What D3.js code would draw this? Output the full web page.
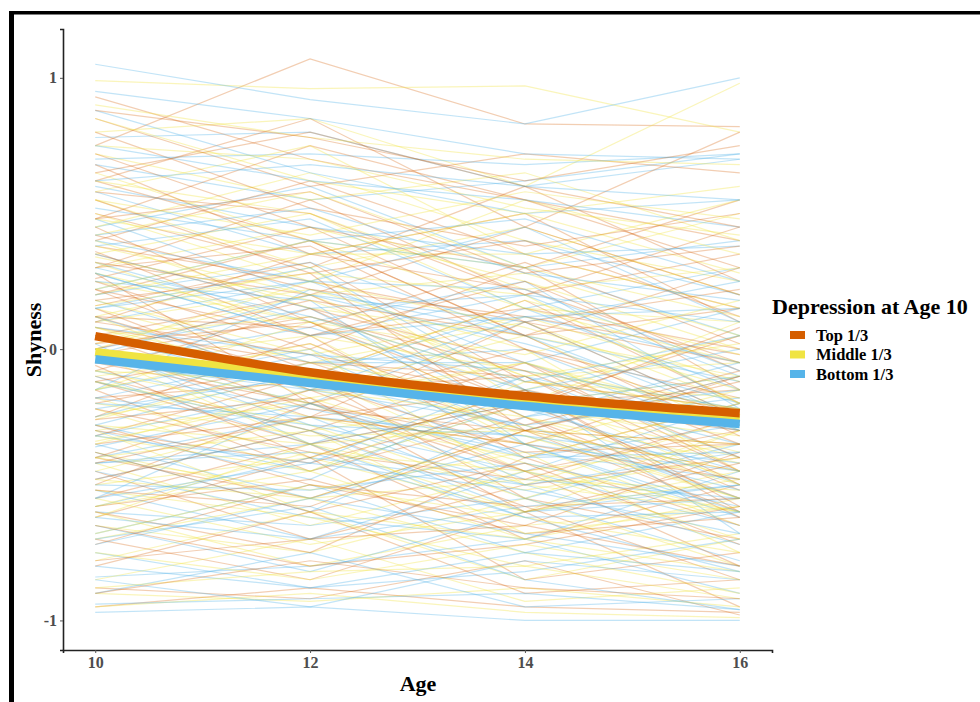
<!DOCTYPE html>
<html>
<head>
<meta charset="utf-8">
<script src="https://cdn.jsdelivr.net/npm/d3@7"></script>
<style>
  body { margin: 0; background: #fff; }
  text { font-family: "Liberation Serif", "Times New Roman", serif; font-weight: bold; }
</style>
</head>
<body>
<svg width="980" height="702"></svg>
<script>
const WIDTH = 980
const HEIGHT = 702

const ages = [10, 12, 14, 16]
const xTicks = [10, 12, 14, 16]
const yTicks = [-1, 0, 1]
const groups = ['Top 1/3', 'Middle 1/3', 'Bottom 1/3']
const groupColors = ['#d55e00', '#f0e442', '#56b4e9']

// fitted trend per group (ages 10, 12, 14, 16)
const topMean = [0.048, -0.085, -0.173, -0.236]
const middleMean = [-0.011, -0.100, -0.185, -0.254]
const bottomMean = [-0.037, -0.125, -0.210, -0.276]

// individual children, shyness at ages 10, 12, 14, 16
const topLines = [
  [0.75, 1.07, 0.83, 0.82], [0.93, 0.70, 0.55, 0.40], [0.62, 0.85, 0.45, 0.80], [0.38, 0.25, 0.10, -0.05],
  [0.30, 0.55, 0.20, 0.35], [0.12, -0.10, 0.18, -0.20], [0.05, 0.20, -0.15, -0.30], [-0.10, -0.30, -0.05, -0.45],
  [-0.25, 0.05, -0.40, -0.20], [-0.40, -0.55, -0.30, -0.60], [-0.55, -0.35, -0.70, -0.50], [-0.70, -0.85, -0.60, -0.95],
  [-0.88, -0.92, -0.78, -0.98], [0.50, 0.30, 0.60, 0.25], [0.20, 0.40, 0.05, 0.15], [-0.05, -0.20, -0.35, -0.10],
  [0.45, 0.10, -0.20, 0.05], [0.68, 0.35, 0.50, 0.10], [-0.32, -0.10, -0.55, -0.70], [-0.15, -0.45, -0.25, -0.55],
  [0.25, 0.00, 0.30, -0.15], [0.85, 0.60, 0.72, 0.65], [-0.62, -0.40, -0.85, -0.75], [0.10, 0.35, 0.22, -0.05],
  [-0.45, -0.70, -0.50, -0.40], [0.35, 0.15, -0.05, -0.35], [0.00, -0.25, 0.10, -0.25], [-0.20, -0.05, -0.30, -0.45],
  [0.58, 0.50, 0.20, 0.45], [-0.80, -0.60, -0.90, -0.85], [0.15, -0.15, -0.45, -0.30], [0.40, 0.62, 0.35, 0.15],
  [-0.35, -0.25, -0.15, -0.60], [0.72, 0.45, 0.30, 0.55], [-0.50, -0.20, -0.45, -0.80], [0.22, 0.05, 0.15, 0.00],
  [-0.08, 0.15, -0.20, -0.15], [-0.95, -0.88, -0.95, -0.97], [0.48, 0.75, 0.55, 0.30], [-0.28, -0.50, -0.65, -0.38],
  [0.08, -0.05, -0.10, -0.50], [0.32, 0.20, 0.45, 0.20], [-0.60, -0.75, -0.40, -0.65], [0.18, 0.28, -0.30, -0.10],
  [-0.12, -0.35, -0.20, -0.30], [0.62, 0.40, 0.05, 0.30], [-0.40, -0.15, -0.10, -0.45], [0.02, 0.10, -0.25, -0.62],
  [-0.72, -0.50, -0.58, -0.85], [0.28, -0.20, 0.00, -0.18],
  [0.10, -0.02, -0.18, -0.28], [-0.18, -0.12, -0.38, -0.35], [0.42, 0.22, 0.12, -0.02], [-0.30, -0.42, -0.20, -0.52],
  [0.55, 0.28, 0.40, 0.12], [-0.02, 0.12, -0.08, -0.40], [-0.48, -0.30, -0.58, -0.55], [0.26, 0.45, 0.10, 0.22],
  [-0.22, -0.38, -0.48, -0.25], [0.05, -0.22, -0.30, -0.12], [0.36, 0.05, 0.25, -0.08], [-0.38, -0.60, -0.42, -0.72],
  [0.16, 0.32, -0.12, -0.22], [-0.58, -0.48, -0.68, -0.62], [0.80, 0.52, 0.38, 0.50], [-0.12, 0.02, -0.28, -0.08],
  [0.48, 0.58, 0.28, 0.38], [-0.65, -0.80, -0.72, -0.58], [0.00, 0.18, 0.05, -0.32], [-0.42, -0.25, -0.35, -0.48],
  [0.22, -0.08, -0.22, 0.08], [-0.26, -0.18, -0.60, -0.42], [0.65, 0.80, 0.60, 0.45], [-0.78, -0.70, -0.65, -0.80],
  [0.12, 0.08, 0.32, 0.02], [-0.06, -0.40, -0.15, -0.58], [0.30, 0.38, 0.00, -0.25], [-0.52, -0.58, -0.30, -0.35],
  [0.88, 0.78, 0.62, 0.75], [-0.90, -0.78, -0.88, -0.92]
]
const middleLines = [
  [0.99, 0.96, 0.97, 0.80], [0.80, 0.85, 0.60, 0.98], [0.55, 0.30, 0.45, 0.20], [0.35, 0.50, 0.15, 0.10],
  [0.15, -0.05, 0.10, -0.20], [0.02, 0.20, -0.10, -0.05], [-0.12, -0.30, -0.20, -0.40], [-0.25, -0.10, -0.45, -0.35],
  [-0.38, -0.55, -0.30, -0.55], [-0.50, -0.40, -0.60, -0.45], [-0.65, -0.75, -0.55, -0.80], [-0.78, -0.60, -0.85, -0.70],
  [-0.90, -0.93, -0.88, -0.95], [0.65, 0.40, 0.30, 0.50], [0.45, 0.65, 0.40, 0.25], [0.25, 0.10, -0.15, 0.05],
  [0.08, -0.15, 0.05, -0.30], [-0.05, 0.05, -0.35, -0.15], [-0.18, -0.40, -0.15, -0.50], [-0.30, -0.20, -0.50, -0.25],
  [-0.42, -0.65, -0.45, -0.60], [-0.58, -0.45, -0.70, -0.55], [0.72, 0.55, 0.65, 0.40], [0.50, 0.25, 0.55, 0.35],
  [0.30, 0.45, 0.25, 0.00], [0.12, 0.30, -0.20, 0.10], [-0.02, -0.20, -0.05, -0.25], [-0.15, 0.10, -0.25, -0.42],
  [-0.28, -0.35, -0.60, -0.30], [-0.45, -0.25, -0.35, -0.65], [-0.60, -0.80, -0.65, -0.58], [-0.70, -0.55, -0.75, -0.90],
  [0.40, 0.15, 0.05, -0.10], [0.20, 0.35, 0.35, 0.15], [-0.08, -0.25, -0.40, -0.20], [-0.35, -0.15, -0.25, -0.48],
  [-0.52, -0.62, -0.80, -0.68], [0.85, 0.62, 0.50, 0.60], [0.05, -0.08, -0.30, -0.35], [-0.22, -0.45, -0.20, -0.10],
  [-0.85, -0.70, -0.93, -0.88], [0.58, 0.75, 0.35, 0.55], [0.18, -0.02, 0.12, -0.12], [-0.40, -0.52, -0.38, -0.75],
  [-0.10, 0.00, -0.50, -0.60], [0.32, 0.05, -0.08, -0.22], [-0.62, -0.35, -0.52, -0.40], [0.10, 0.22, 0.00, -0.45],
  [-0.30, -0.60, -0.70, -0.82], [-0.95, -0.90, -0.97, -0.99],
  [0.05, 0.12, -0.12, -0.18], [-0.20, -0.32, -0.30, -0.45], [0.38, 0.20, 0.28, 0.05], [-0.34, -0.18, -0.42, -0.60],
  [0.22, 0.40, 0.15, -0.05], [-0.08, -0.12, -0.22, -0.32], [-0.48, -0.55, -0.48, -0.52], [0.62, 0.50, 0.22, 0.30],
  [-0.26, -0.05, -0.18, -0.38], [0.12, -0.18, -0.05, -0.28], [0.48, 0.35, 0.50, 0.28], [-0.55, -0.72, -0.60, -0.48],
  [0.00, 0.25, 0.08, -0.15], [-0.68, -0.50, -0.62, -0.75], [0.75, 0.70, 0.52, 0.42], [-0.12, -0.28, -0.55, -0.30],
  [0.28, 0.10, -0.02, 0.18], [-0.40, -0.30, -0.68, -0.58], [0.16, 0.28, 0.20, -0.20], [-0.75, -0.85, -0.72, -0.85],
  [-0.02, -0.35, -0.28, -0.50], [0.42, 0.58, 0.30, 0.12], [-0.32, -0.45, -0.12, -0.22], [0.90, 0.78, 0.70, 0.68],
  [-0.15, 0.02, -0.32, -0.55], [0.08, -0.10, 0.18, -0.02], [-0.58, -0.38, -0.45, -0.70], [0.34, 0.18, -0.10, 0.02],
  [-0.88, -0.82, -0.80, -0.92], [0.55, 0.42, 0.58, 0.48]
]
const bottomLines = [
  [1.05, 0.92, 0.83, 1.00], [0.78, 0.80, 0.60, 0.70], [0.68, 0.55, 0.62, 0.72], [0.45, 0.60, 0.30, 0.40],
  [0.28, 0.05, 0.20, -0.10], [0.10, 0.25, -0.05, 0.15], [-0.02, -0.20, 0.10, -0.25], [-0.15, 0.00, -0.30, -0.10],
  [-0.28, -0.45, -0.20, -0.50], [-0.40, -0.25, -0.55, -0.35], [-0.52, -0.70, -0.45, -0.65], [-0.68, -0.50, -0.75, -0.60],
  [-0.84, -0.80, -0.70, -0.90], [-0.97, -0.95, -1.00, -1.00], [0.58, 0.35, 0.40, 0.20], [0.38, 0.48, 0.15, 0.30],
  [0.18, -0.05, 0.00, -0.30], [0.00, 0.15, -0.25, -0.05], [-0.10, -0.35, -0.10, -0.40], [-0.22, -0.10, -0.40, -0.28],
  [-0.35, -0.55, -0.35, -0.62], [-0.48, -0.30, -0.60, -0.50], [-0.60, -0.65, -0.55, -0.78], [-0.75, -0.88, -0.82, -0.70],
  [0.22, 0.40, 0.30, 0.05], [0.05, -0.10, 0.15, -0.15], [-0.05, 0.08, -0.15, -0.35], [-0.18, -0.28, -0.45, -0.20],
  [-0.32, -0.15, -0.28, -0.55], [-0.45, -0.62, -0.70, -0.45], [-0.58, -0.40, -0.50, -0.72], [0.48, 0.20, 0.10, 0.25],
  [0.15, 0.30, -0.15, 0.00], [-0.25, -0.05, -0.05, -0.30], [-0.42, -0.38, -0.62, -0.82], [-0.65, -0.82, -0.60, -0.55],
  [0.70, 0.72, 0.68, 0.72], [-0.08, -0.22, -0.38, -0.48], [0.32, 0.10, 0.25, -0.22], [-0.55, -0.20, -0.40, -0.38],
  [-0.90, -0.75, -0.95, -0.92], [0.02, -0.35, -0.20, -0.10], [-0.30, -0.48, -0.15, -0.68], [0.25, 0.18, -0.35, -0.45],
  [-0.15, 0.22, 0.05, -0.25], [-0.70, -0.58, -0.85, -0.96], [0.88, 0.65, 0.50, 0.55], [-0.38, -0.60, -0.25, -0.15],
  [0.40, 0.25, 0.45, 0.10], [-0.85, -0.95, -0.78, -0.85],
  [0.08, -0.02, -0.08, -0.22], [-0.20, -0.25, -0.32, -0.42], [0.35, 0.15, 0.20, 0.10], [-0.36, -0.20, -0.48, -0.55],
  [0.20, 0.32, 0.05, -0.12], [-0.05, -0.15, -0.18, -0.30], [-0.50, -0.52, -0.42, -0.58], [0.60, 0.45, 0.35, 0.38],
  [-0.28, -0.08, -0.22, -0.45], [0.12, -0.12, -0.28, -0.18], [0.52, 0.40, 0.48, 0.25], [-0.62, -0.70, -0.58, -0.50],
  [-0.02, 0.20, 0.02, -0.20], [-0.72, -0.55, -0.68, -0.80], [0.75, 0.62, 0.55, 0.45], [-0.12, -0.30, -0.50, -0.38],
  [0.28, 0.05, 0.12, 0.15], [-0.42, -0.35, -0.62, -0.60], [0.15, 0.25, 0.22, -0.08], [-0.80, -0.88, -0.75, -0.82],
  [0.00, -0.28, -0.32, -0.52], [0.42, 0.52, 0.28, 0.18], [-0.32, -0.42, -0.10, -0.28], [0.95, 0.85, 0.72, 0.70],
  [-0.18, -0.02, -0.35, -0.60], [0.05, -0.15, 0.12, -0.05], [-0.55, -0.42, -0.52, -0.68], [0.30, 0.12, -0.12, 0.05],
  [-0.94, -0.92, -0.90, -0.96], [0.62, 0.68, 0.60, 0.55]
]

const svg = d3.select('svg')
  .attr('viewBox', `0 0 ${WIDTH} ${HEIGHT}`)

const x = d3.scaleLinear().domain([9.7, 16.3]).range([63, 772])
const y = d3.scaleLinear().domain([-1.109, 1.18]).range([650, 29])
const color = d3.scaleOrdinal().domain(groups).range(groupColors)

const line = d3.line()
  .x((d, i) => x(ages[i]))
  .y(d => y(d))

const smooth = d3.line()
  .x((d, i) => x(ages[i]))
  .y(d => y(d))
  .curve(d3.curveMonotoneX)

// interleave the groups so no colour sits entirely on top
const people = []
for (let i = 0; i < topLines.length; i++) {
  people.push({ g: groups[0], v: topLines[i] })
  people.push({ g: groups[1], v: middleLines[i] })
  people.push({ g: groups[2], v: bottomLines[i] })
}

svg.append('g')
  .selectAll('path')
  .data(people)
  .enter()
  .append('path')
  .attr('d', d => line(d.v))
  .attr('fill', 'none')
  .attr('stroke', d => color(d.g))
  .attr('stroke-width', 1.2)
  .attr('stroke-opacity', d => d.g === groups[0] ? 0.3 : 0.36)

const means = [
  { g: groups[1], v: middleMean },
  { g: groups[2], v: bottomMean },
  { g: groups[0], v: topMean }
]
svg.append('g')
  .selectAll('path')
  .data(means)
  .enter()
  .append('path')
  .attr('d', d => smooth(d.v))
  .attr('fill', 'none')
  .attr('stroke', d => color(d.g))
  .attr('stroke-width', 8.5)

// axes (plain hyphen for negatives, like the original)
const axisX = d3.axisBottom(x).tickValues(xTicks).tickFormat(d => String(d)).tickSize(3).tickPadding(4)
const axisY = d3.axisLeft(y).tickValues(yTicks).tickFormat(d => String(d)).tickSize(3).tickPadding(3)

const gx = svg.append('g')
  .attr('transform', `translate(0, ${y.range()[0]})`)
  .call(axisX)
const gy = svg.append('g')
  .attr('transform', `translate(${x.range()[0]}, 0)`)
  .call(axisY)

;[gx, gy].forEach(g => {
  g.select('.domain').attr('stroke', '#222').attr('stroke-width', 1.6)
  g.selectAll('.tick line').attr('stroke', '#555').attr('stroke-width', 1)
  g.selectAll('.tick text')
    .attr('fill', '#4d4d4d')
    .style('font-size', '16px')
    .style('font-family', '"Liberation Serif", serif')
    .style('font-weight', 'bold')
})

svg.append('text')
  .attr('x', 418)
  .attr('y', 691)
  .attr('text-anchor', 'middle')
  .style('font-size', '22px')
  .text('Age')

svg.append('text')
  .attr('transform', 'translate(41, 340) rotate(-90)')
  .attr('text-anchor', 'middle')
  .style('font-size', '22px')
  .text('Shyness')

// legend
const legend = svg.append('g')
legend.append('text')
  .attr('x', 772)
  .attr('y', 314)
  .style('font-size', '22px')
  .text('Depression at Age 10')

const keys = legend.selectAll('g.key')
  .data(groups)
  .enter()
  .append('g')
  .attr('class', 'key')
  .attr('transform', (d, i) => `translate(0, ${335 + i * 19.5})`)
keys.append('line')
  .attr('x1', 790).attr('x2', 805)
  .attr('stroke', d => color(d))
  .attr('stroke-width', 8)
keys.append('text')
  .attr('x', 816)
  .attr('y', 5.5)
  .style('font-size', '16.5px')
  .text(d => d)

// black frame from the cropped screenshot
svg.append('rect').attr('x', 9).attr('y', 11).attr('width', WIDTH - 9).attr('height', 3.5).attr('fill', '#000')
svg.append('rect').attr('x', 9).attr('y', 11).attr('width', 5).attr('height', HEIGHT - 11).attr('fill', '#000')
</script>
</body>
</html>
